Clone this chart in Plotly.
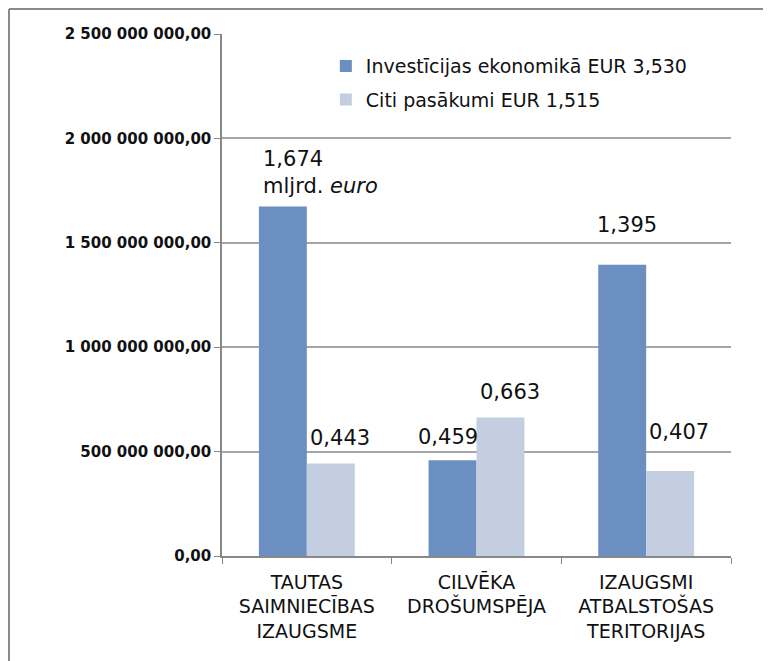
import plotly.graph_objects as go

categories = ["TAUTAS<br>SAIMNIECĪBAS<br>IZAUGSME", "CILVĒKA<br>DROŠUMSPĒJA", "IZAUGSMI<br>ATBALSTOŠAS<br>TERITORIJAS"]
invest_values = [1674000000, 459000000, 1395000000]
citi_values = [443000000, 663000000, 407000000]
invest_labels = ["1,674<br>mljrd. <i>euro</i>", "0,459", "1,395"]
citi_labels = ["0,443", "0,663", "0,407"]
series_names = ["Investīcijas ekonomikā EUR 3,530", "Citi pasākumi EUR 1,515"]
y_ticks = [0, 500000000, 1000000000, 1500000000, 2000000000, 2500000000]
y_tick_labels = ["0,00", "500 000 000,00", "1 000 000 000,00", "1 500 000 000,00", "2 000 000 000,00", "2 500 000 000,00"]

BLUE = "#6A8FC0"
LIGHT = "#C3CFE0"
FONT = "DejaVu Sans"

fig = go.Figure()
fig.add_trace(go.Bar(x=categories, y=invest_values, marker_color=BLUE, marker_line_width=0,
                     showlegend=False, name=series_names[0]))
fig.add_trace(go.Bar(x=categories, y=citi_values, marker_color=LIGHT, marker_line_width=0,
                     showlegend=False, name=series_names[1]))
# legend entries with small square markers
for k, (nm, col) in enumerate(zip(series_names, [BLUE, LIGHT])):
    fig.add_trace(go.Scatter(x=[None], y=[None], mode="markers", name=nm, legendgroup=f"g{k}",
                             marker=dict(symbol="square", size=9, color=col)))

# label offsets (pixels): (xshift, yshift, xanchor)
inv_off = [(-22, 6, "left"), (-5, 9, "center"), (5, 26, "center")]
citi_off = [(9, 12, "center"), (10, 12, "center"), (9, 25, "center")]
half = (1 - 0.435) / 4
for i, cat in enumerate(categories):
    xs, ys, xa = inv_off[i]
    fig.add_annotation(x=i - half, y=invest_values[i], xref="x", yref="y", text=invest_labels[i],
                       showarrow=False, xanchor=xa, yanchor="bottom", align="left",
                       xshift=xs, yshift=ys, font=dict(family=FONT, size=21, color="#111"))
    xs, ys, xa = citi_off[i]
    fig.add_annotation(x=i + half, y=citi_values[i], xref="x", yref="y", text=citi_labels[i],
                       showarrow=False, xanchor=xa, yanchor="bottom",
                       xshift=xs, yshift=ys, font=dict(family=FONT, size=21, color="#111"))

# outer border (top and left lines)
fig.add_shape(type="line", xref="paper", yref="paper", x0=-213/509, x1=60/509 + 1,
              y0=1 + 25/522, y1=1 + 25/522, line=dict(color="#8a8a8a", width=2))
fig.add_shape(type="line", xref="paper", yref="paper", x0=-213/509, x1=-213/509,
              y0=1 + 25/522, y1=-130/522, line=dict(color="#8a8a8a", width=2))

fig.update_layout(
    width=771, height=661,
    margin=dict(l=214, r=48, t=26, b=113),
    paper_bgcolor="white", plot_bgcolor="white",
    barmode="group", bargap=0.435, bargroupgap=0,
    font=dict(family=FONT, color="#111"),
    legend=dict(x=0.204, y=0.975, xanchor="left", yanchor="top",
                font=dict(family=FONT, size=19, color="#111"),
                bgcolor="rgba(0,0,0,0)", itemsizing="constant", tracegroupgap=6),
    xaxis=dict(type="category", tickson="boundaries", ticks="outside", ticklen=6,
               tickcolor="#888", showline=True, linecolor="#888", linewidth=1.5,
               tickfont=dict(family=FONT, size=19, color="#111"), showgrid=False,
               ticklabelstandoff=8, range=[-0.5, 2.5]),
    yaxis=dict(range=[0, 2500000000], tickvals=y_ticks, ticktext=y_tick_labels,
               ticks="outside", ticklen=6, tickcolor="#888", showline=True,
               linecolor="#888", linewidth=1.5, showgrid=True, gridcolor="#a6a6a6",
               gridwidth=1.5, zeroline=False,
               tickfont=dict(family="DejaVu Sans, sans-serif", size=15, color="#111", weight="bold")),
)
fig.write_html("out.html")
